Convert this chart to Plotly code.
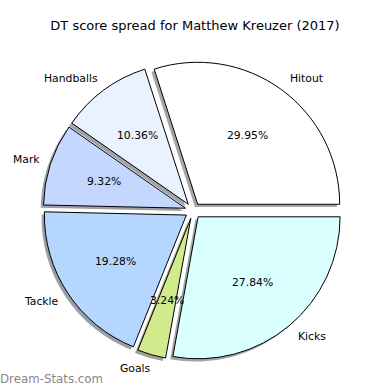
import math
import plotly.graph_objects as go

# ---- data ----
labels = ["Hitout", "Handballs", "Mark", "Tackle", "Goals", "Kicks"]
values = [29.95, 10.36, 9.32, 19.28, 3.24, 27.84]
colors = ["#FFFFFF", "#EAF1FF", "#C4D8FF", "#B5D6FF", "#D0EA8C", "#D9FFFF"]
title_text = "DT score spread for Matthew Kreuzer (2017)"
watermark = "Dream-Stats.com"

# ---- geometry (pixels in a 390x390 canvas) ----
W = H = 390
cx_px, cy_px = 193.0, 210.7   # pie centre (from top-left)
r_px = 142.0                  # pie radius
pull = 0.056                  # explosion as a fraction of radius
shadow_px = 2.8               # shadow offset (left and down)

half = r_px * (1 + pull)
total = sum(values)
# plotly's counterclockwise pies end the first slice at `rotation`;
# shift so the first slice starts at 3 o'clock like matplotlib
rotation = 90 - 360.0 * values[0] / total


def domain(cx, cy):
    return dict(x=[(cx - half) / W, (cx + half) / W],
                y=[(H - cy - half) / H, (H - cy + half) / H])


def shade(hexcol):
    h = hexcol.lstrip("#")
    r, g, b = (int(h[i:i + 2], 16) for i in (0, 2, 4))
    return "rgba(%d,%d,%d,0.5)" % (0.3 * r, 0.3 * g, 0.3 * b)


fig = go.Figure()

# shadow pie
fig.add_trace(go.Pie(
    labels=labels, values=values, sort=False, direction="counterclockwise",
    rotation=rotation, pull=[pull] * len(values), textinfo="none", hoverinfo="skip",
    marker=dict(colors=[shade(c) for c in colors], line=dict(width=0)),
    domain=domain(cx_px - shadow_px, cy_px + shadow_px), showlegend=False,
))

# main pie
fig.add_trace(go.Pie(
    labels=labels, values=values, sort=False, direction="counterclockwise",
    rotation=rotation, pull=[pull] * len(values), textinfo="none",
    marker=dict(colors=colors, line=dict(color="black", width=1)),
    domain=domain(cx_px, cy_px), showlegend=False,
))

# labels & percentages placed as matplotlib does
font = dict(family="DejaVu Sans", size=10.8, color="black")
annotations = []
start = 0.0
for lab, v in zip(labels, values):
    ang = 360.0 * v / total
    mid = math.radians(start + ang / 2)
    start += ang
    ex = cx_px + pull * r_px * math.cos(mid)
    ey = cy_px - pull * r_px * math.sin(mid)
    # label at 1.1 r
    lx = ex + 1.1 * r_px * math.cos(mid)
    ly = ey - 1.1 * r_px * math.sin(mid)
    right_side = math.cos(mid) > 0
    annotations.append(dict(
        x=lx / W, y=1 - ly / H, xref="paper", yref="paper", text=lab,
        showarrow=False, font=font, borderpad=0, borderwidth=0,
        xshift=0 if right_side else 3,
        xanchor="left" if right_side else "right", yanchor="middle"))
    # percentage at 0.6 r
    px = ex + 0.6 * r_px * math.cos(mid)
    py = ey - 0.6 * r_px * math.sin(mid)
    annotations.append(dict(
        x=px / W, y=1 - py / H, xref="paper", yref="paper",
        text="%.2f%%" % (100 * v / total), borderpad=0, borderwidth=0,
        showarrow=False, font=font, xanchor="center", yanchor="middle"))

annotations.append(dict(
    x=0, y=1 - 379 / H, xref="paper", yref="paper", text=watermark,
    showarrow=False, xanchor="left", yanchor="middle", borderpad=0, borderwidth=0,
    font=dict(family="DejaVu Sans", size=11.8, color="#888888")))

fig.update_layout(
    width=W, height=H,
    margin=dict(l=0, r=0, t=0, b=0),
    paper_bgcolor="white", plot_bgcolor="white",
    title=dict(text=title_text, x=0.5, xanchor="center",
               y=1 - 25 / H, yanchor="middle", yref="container",
               font=dict(family="DejaVu Sans", size=13, color="black")),
    annotations=annotations,
)

fig.write_html("out.html")
